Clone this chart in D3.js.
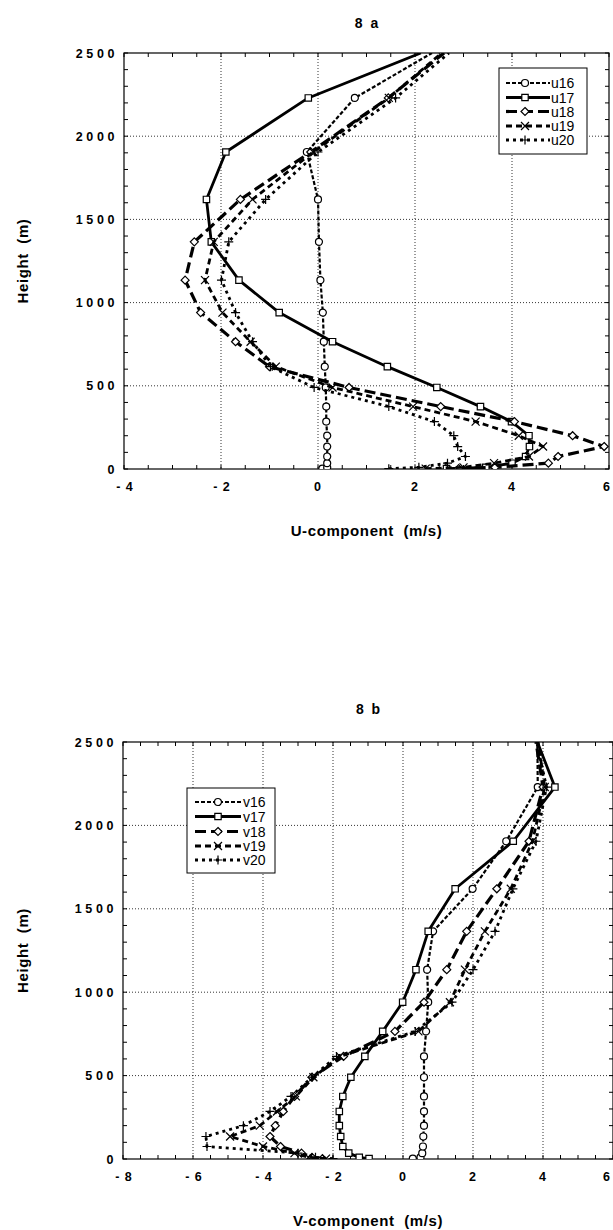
<!DOCTYPE html>
<html><head><meta charset="utf-8">
<script src="https://cdn.jsdelivr.net/npm/d3@7"></script>
<style>
body{margin:0;background:#fff}
text{font-family:"Liberation Sans",Arial,Helvetica,sans-serif;fill:#000}
</style>
</head><body>
<svg id="c" width="613" height="1230" xmlns="http://www.w3.org/2000/svg"></svg>
<script>
// ---------- DATA ----------
const heights = [2, 10, 35, 75, 135, 200, 285, 375, 490, 615, 765, 940, 1135, 1365, 1620, 1905, 2230, 2500];

const u16 = [0.09, 0.19, 0.19, 0.19, 0.19, 0.19, 0.17, 0.17, 0.16, 0.14, 0.12, 0.10, 0.05, 0.02, 0.0, -0.23, 0.76, 2.35];
const u17 = [2.65, 3.46, 4.0, 4.28, 4.36, 4.35, 3.99, 3.35, 2.45, 1.43, 0.3, -0.8, -1.63, -2.2, -2.3, -1.9, -0.2, 2.12];
const u18 = [2.9, 3.65, 4.75, 4.95, 5.9, 5.25, 4.05, 2.53, 0.64, -1.0, -1.7, -2.42, -2.74, -2.55, -1.6, -0.15, 1.45, 2.6];
const u19 = [2.22, 3.0, 3.63, 4.35, 4.64, 4.14, 3.25, 1.96, 0.3, -0.87, -1.39, -1.97, -2.33, -2.15, -1.35, -0.1, 1.46, 2.55];
const u20 = [1.46, 2.08, 2.67, 3.04, 2.88, 2.8, 2.4, 1.46, -0.08, -0.98, -1.35, -1.7, -1.99, -1.84, -1.08, 0.0, 1.6, 2.7];

const v16 = [0.28, 0.5, 0.55, 0.57, 0.58, 0.6, 0.6, 0.6, 0.6, 0.6, 0.66, 0.72, 0.69, 0.86, 1.99, 2.95, 3.85, 3.84];
const v17 = [-0.97, -1.25, -1.55, -1.72, -1.78, -1.82, -1.82, -1.72, -1.49, -1.09, -0.58, -0.01, 0.37, 0.72, 1.49, 3.15, 4.34, 3.84];
const v18 = [-2.3, -2.6, -2.9, -3.5, -3.8, -3.65, -3.42, -3.1, -2.6, -1.7, -0.23, 0.6, 1.25, 1.82, 2.68, 3.6, 4.0, 3.8];
const v19 = [-2.2, -2.7, -3.1, -4.0, -4.94, -4.09, -3.6, -3.06, -2.56, -1.8, 0.44, 1.34, 1.77, 2.34, 3.08, 3.7, 4.05, 3.86];
const v20 = [-2.0, -2.5, -3.0, -5.6, -5.63, -4.56, -3.8, -3.2, -2.6, -1.9, 0.35, 1.4, 2.0, 2.63, 3.14, 3.8, 4.1, 3.82];

const uNames = ["u16", "u17", "u18", "u19", "u20"];
const vNames = ["v16", "v17", "v18", "v19", "v20"];
const uTicks = [-4, -2, 0, 2, 4, 6];
const vTicks = [-8, -6, -4, -2, 0, 2, 4, 6];
const hTicks = [0, 500, 1000, 1500, 2000, 2500];

// ---------- STYLES ----------
const seriesStyle = [
  {dash: "4,2", width: 2.2, marker: "circle"},
  {dash: null, width: 2.8, marker: "square"},
  {dash: "11,5", width: 3.2, marker: "diamond"},
  {dash: "6,4", width: 2.8, marker: "x"},
  {dash: "3,4", width: 2.8, marker: "plus"}
];

const svg = d3.select("#c");

function markerPath(type, x, y) {
  const p = d3.path();
  if (type === "circle") { p.moveTo(x + 3.5, y); p.arc(x, y, 3.5, 0, 2 * Math.PI); }
  else if (type === "square") { p.rect(x - 3.2, y - 3.2, 6.4, 6.4); }
  else if (type === "diamond") { p.moveTo(x, y - 4); p.lineTo(x + 4, y); p.lineTo(x, y + 4); p.lineTo(x - 4, y); p.closePath(); }
  else if (type === "x") { p.moveTo(x - 4, y - 4); p.lineTo(x + 4, y + 4); p.moveTo(x + 4, y - 4); p.lineTo(x - 4, y + 4); }
  else if (type === "plus") { p.moveTo(x - 4.5, y); p.lineTo(x + 4.5, y); p.moveTo(x, y - 4.5); p.lineTo(x, y + 4.5); }
  return p.toString();
}

function fmtX(d) { return d < 0 ? "- " + Math.abs(d) : String(d); }

function panel(cfg) {
  const {left, right, top, bottom, xDomain, xTicks, series, names, title, titleY, xTitle, legend, id} = cfg;
  const x = d3.scaleLinear().domain(xDomain).range([left, right]);
  const y = d3.scaleLinear().domain([0, 2500]).range([bottom, top]);
  const g = svg.append("g");

  g.append("clipPath").attr("id", id).append("rect")
    .attr("x", left).attr("y", top).attr("width", right - left).attr("height", bottom - top);

  // grid
  const gx = xTicks.filter(t => t !== xDomain[0] && t !== xDomain[1]);
  g.selectAll(".gx").data(gx).enter().append("line")
    .attr("x1", d => x(d)).attr("x2", d => x(d)).attr("y1", top).attr("y2", bottom)
    .attr("stroke", "#000").attr("stroke-width", 0.8).attr("stroke-dasharray", "1,2");
  g.selectAll(".gy").data(hTicks.filter(t => t > 0 && t < 2500)).enter().append("line")
    .attr("y1", d => y(d)).attr("y2", d => y(d)).attr("x1", left).attr("x2", right)
    .attr("stroke", "#000").attr("stroke-width", 0.8).attr("stroke-dasharray", "1,2");

  // minor ticks
  const xMinor = d3.range(xDomain[0], xDomain[1] + 0.001, 0.5);
  const hMinor = d3.range(0, 2501, 100);
  g.selectAll(".tb").data(xMinor).enter().append("line")
    .attr("x1", d => x(d)).attr("x2", d => x(d)).attr("y1", bottom).attr("y2", bottom - 4)
    .attr("stroke", "#000").attr("stroke-width", 1);
  g.selectAll(".tt").data(xMinor).enter().append("line")
    .attr("x1", d => x(d)).attr("x2", d => x(d)).attr("y1", top).attr("y2", top + 4)
    .attr("stroke", "#000").attr("stroke-width", 1);
  g.selectAll(".tl").data(hMinor).enter().append("line")
    .attr("y1", d => y(d)).attr("y2", d => y(d)).attr("x1", left).attr("x2", left + 4)
    .attr("stroke", "#000").attr("stroke-width", 1);
  g.selectAll(".tr").data(hMinor).enter().append("line")
    .attr("y1", d => y(d)).attr("y2", d => y(d)).attr("x1", right).attr("x2", right - 4)
    .attr("stroke", "#000").attr("stroke-width", 1);

  // frame
  g.append("rect").attr("x", left).attr("y", top).attr("width", right - left).attr("height", bottom - top)
    .attr("fill", "none").attr("stroke", "#000").attr("stroke-width", 1.2);

  // tick labels
  g.selectAll(".xl").data(xTicks).enter().append("text")
    .attr("x", d => Math.min(x(d) + (d < 0 ? 1 : 0), 607)).attr("y", bottom + 22)
    .attr("text-anchor", "middle").attr("font-size", 12.5).attr("font-weight", "bold")
    .style("white-space", "pre").attr("letter-spacing", 1)
    .text(fmtX);
  g.selectAll(".yl").data(hTicks).enter().append("text")
    .attr("x", left - 6).attr("y", d => y(d) + 4.5)
    .attr("text-anchor", "end").attr("font-size", 12.5).attr("font-weight", "bold")
    .attr("letter-spacing", 3.6)
    .text(d => String(d));

  // titles
  g.append("text").attr("x", (left + right) / 2).attr("y", titleY).attr("text-anchor", "middle")
    .attr("font-size", 14).attr("font-weight", "bold").style("white-space", "pre").text(title);
  g.append("text").attr("x", (left + right) / 2).attr("y", bottom + 67).attr("text-anchor", "middle")
    .attr("font-size", 15).attr("font-weight", "bold").attr("letter-spacing", 0.6)
    .style("white-space", "pre").text(xTitle);
  g.append("text").attr("transform", `translate(28,${(top + bottom) / 2}) rotate(-90)`)
    .attr("text-anchor", "middle").attr("font-size", 15).attr("font-weight", "bold")
    .attr("letter-spacing", 0.6).style("white-space", "pre").text("Height  (m)");

  // series
  const line = d3.line().x(d => x(d[0])).y(d => y(d[1]));
  const plot = g.append("g").attr("clip-path", `url(#${id})`);
  series.forEach((vals, i) => {
    const st = seriesStyle[i];
    const pts = vals.map((v, k) => [v, heights[k]]);
    plot.append("path").attr("d", line(pts)).attr("fill", "none").attr("stroke", "#000")
      .attr("stroke-width", st.width).attr("stroke-dasharray", st.dash)
      .attr("stroke-linejoin", "round");
    plot.selectAll(null).data(pts.slice(0, -1)).enter().append("path")
      .attr("d", d => markerPath(st.marker, x(d[0]), y(d[1])))
      .attr("fill", (st.marker === "x" || st.marker === "plus") ? "none" : "#fff")
      .attr("stroke", "#000").attr("stroke-width", 1.2);
  });

  // legend
  const lg = g.append("g");
  lg.append("rect").attr("x", legend.x).attr("y", legend.y).attr("width", legend.w).attr("height", legend.h)
    .attr("fill", "#fff").attr("stroke", "#000").attr("stroke-width", 1);
  names.forEach((nm, i) => {
    const st = seriesStyle[i];
    const ry = legend.rowY[i];
    lg.append("line").attr("x1", legend.lx1).attr("x2", legend.lx2).attr("y1", ry).attr("y2", ry)
      .attr("stroke", "#000").attr("stroke-width", st.width).attr("stroke-dasharray", st.dash);
    lg.append("path").attr("d", markerPath(st.marker, legend.mx, ry))
      .attr("fill", (st.marker === "x" || st.marker === "plus") ? "none" : "#fff")
      .attr("stroke", "#000").attr("stroke-width", 1.2);
    lg.append("text").attr("x", legend.tx).attr("y", ry + 5).attr("font-size", 14).text(nm);
  });
}

panel({
  id: "clipA", left: 124, right: 609, top: 53, bottom: 469, xDomain: [-4, 6], xTicks: uTicks,
  series: [u16, u17, u18, u19, u20], names: uNames, title: "8  a", titleY: 28,
  xTitle: "U-component  (m/s)",
  legend: {x: 499, y: 68, w: 88, h: 86, rowY: [83, 97.5, 111.5, 126, 140], lx1: 506, lx2: 550, mx: 525, tx: 551}
});
panel({
  id: "clipB", left: 123, right: 613, top: 742, bottom: 1159, xDomain: [-8, 6], xTicks: vTicks,
  series: [v16, v17, v18, v19, v20], names: vNames, title: "8  b", titleY: 714,
  xTitle: "V-component  (m/s)",
  legend: {x: 187, y: 788, w: 88, h: 85, rowY: [802, 816.5, 831.5, 846, 860], lx1: 195, lx2: 241, mx: 218, tx: 243}
});
</script>
</body></html>
